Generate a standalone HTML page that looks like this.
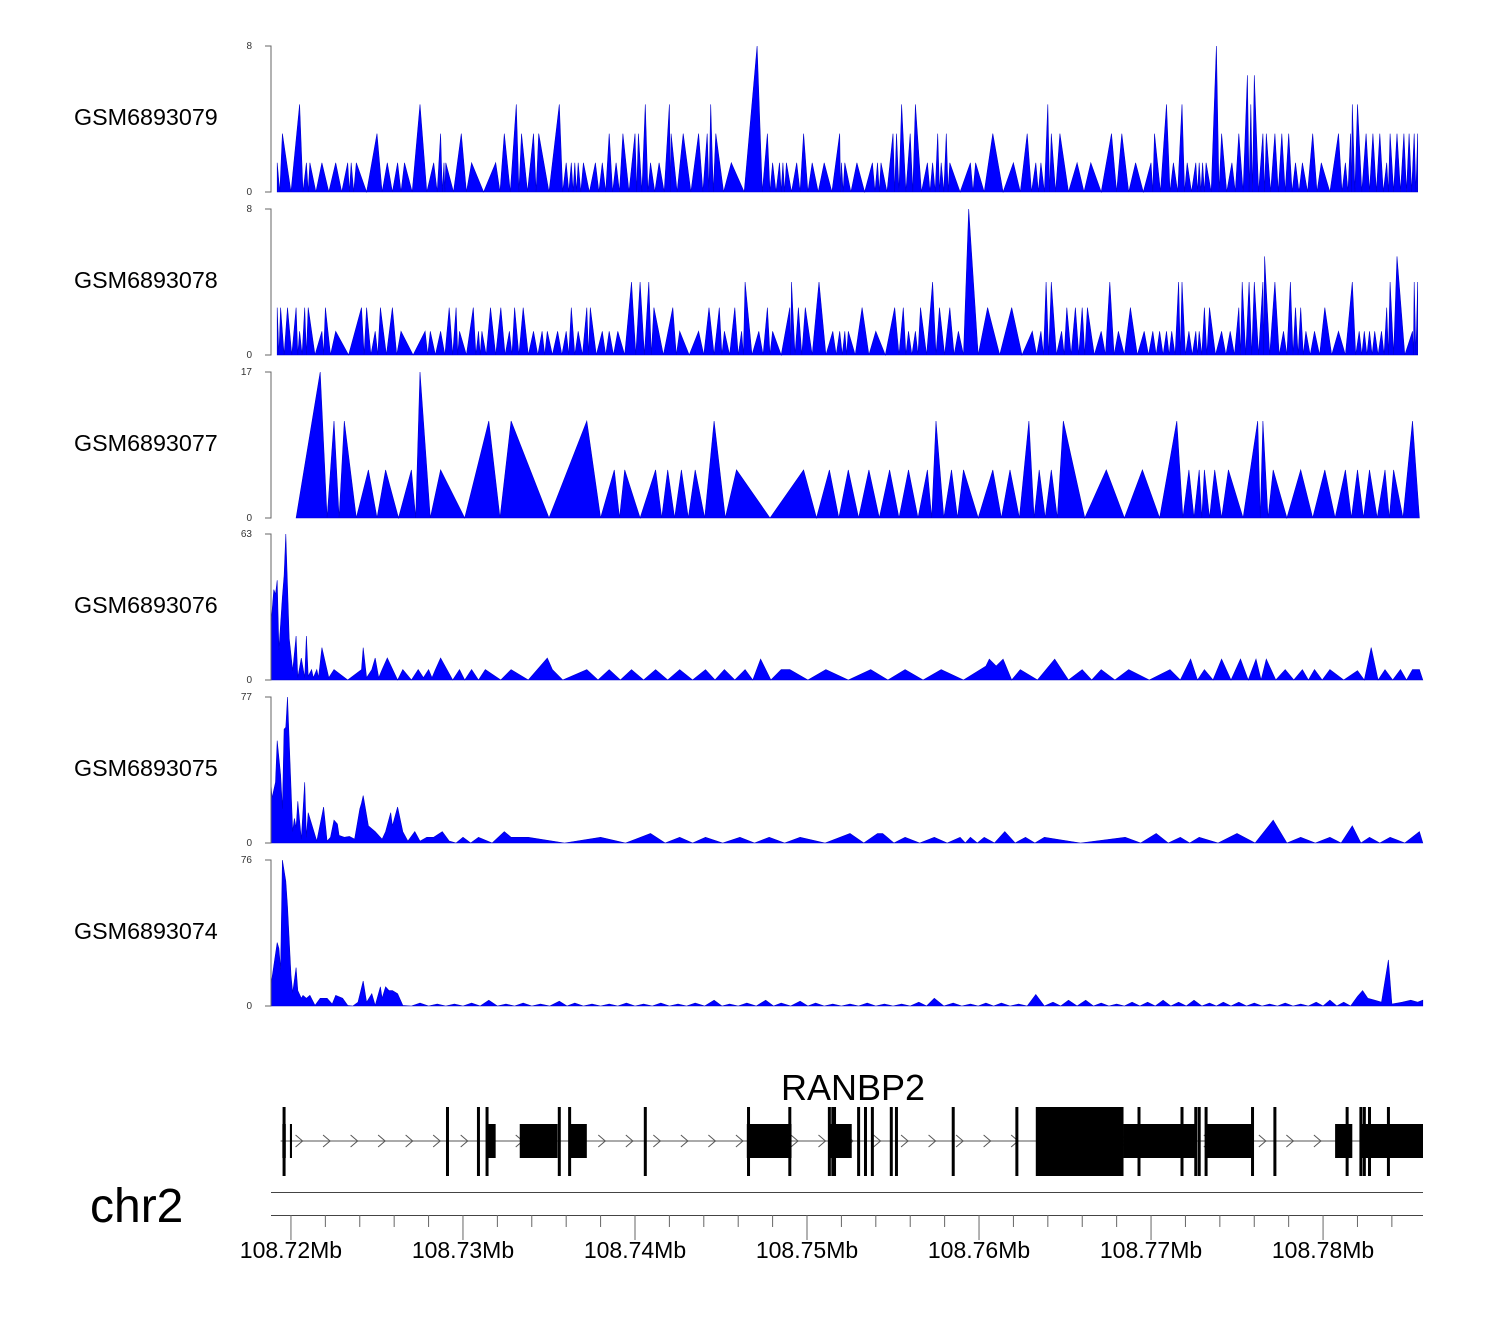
<!DOCTYPE html>
<html><head><meta charset="utf-8"><style>
html,body{margin:0;padding:0;background:#fff;}
svg{display:block;font-family:"Liberation Sans",sans-serif;}
</style></head><body>
<svg id="chart" width="1500" height="1320" viewBox="0 0 1500 1320" xmlns="http://www.w3.org/2000/svg"></svg>
<script>
// genomic positions in kb relative to 108.72 Mb
const regionStartKb = -1.16, regionEndKb = 65.81;
const trackNames = ["GSM6893079","GSM6893078","GSM6893077","GSM6893076","GSM6893075","GSM6893074"];
const trackMax = [8,8,17,63,77,76];
const trackSparse = [true,true,true,false,false,false];

const t1Pos = [-0.8,-0.5,0.5,0.9,1.1,1.8,2.6,3.3,3.5,3.8,5.0,5.6,6.2,6.6,7.5,8.3,8.7,8.9,9.0,9.9,10.5,11.9,12.4,13.1,13.4,14.1,14.4,15.6,16.0,16.3,16.5,16.7,17.0,17.7,18.1,18.5,18.9,19.3,20.0,20.2,20.6,20.9,21.4,22.0,22.1,22.8,23.7,24.2,24.4,24.7,25.6,27.1,27.7,28.0,28.4,28.6,28.8,29.4,29.8,30.3,31.0,31.9,32.0,32.2,32.9,33.8,34.1,34.3,35.0,35.2,35.5,36.0,36.3,37.0,37.3,37.6,37.8,38.1,38.3,39.5,39.8,40.8,42.0,42.8,43.3,43.6,44.0,44.2,44.7,45.7,46.5,47.7,48.3,49.1,50.0,50.2,50.9,51.3,51.8,52.1,52.6,52.8,53.0,53.2,53.8,54.1,54.7,55.1,55.6,55.8,56.0,56.5,56.7,57.2,57.6,58.0,58.4,58.8,59.4,59.9,60.9,61.3,61.6,61.7,62.0,62.5,62.9,63.3,63.7,63.9,64.3,64.7,65.0,65.3,65.5];
const t1Val = [1.6,3.2,4.8,1.6,1.6,1.6,1.6,1.6,1.6,1.6,3.2,1.6,1.6,1.6,4.8,1.6,3.2,1.6,1.6,3.2,1.6,1.6,3.2,4.8,3.2,3.2,3.2,4.8,1.6,1.6,1.6,1.6,1.6,1.6,1.6,3.2,1.6,3.2,3.2,3.2,4.8,1.6,1.6,4.8,3.2,3.2,3.2,3.2,4.8,3.2,1.6,8,3.2,1.6,1.6,1.6,1.6,1.6,3.2,1.6,1.6,3.2,1.6,1.6,1.6,1.6,1.6,1.6,3.2,3.2,4.8,3.2,4.8,1.6,1.6,3.2,1.6,3.2,1.6,1.6,1.6,3.2,1.6,3.2,1.6,1.6,4.8,3.2,3.2,1.6,1.6,3.2,3.2,1.6,1.6,3.2,4.8,1.6,4.8,1.6,1.6,1.6,1.6,1.6,8,3.2,1.6,3.2,6.4,4.8,6.4,3.2,3.2,3.2,3.2,3.2,1.6,1.6,3.2,1.6,3.2,1.6,3.2,4.8,4.8,3.2,3.2,3.2,1.6,3.2,3.2,3.2,3.2,3.2,3.2];

const t2Pos = [-0.8,-0.6,-0.2,0.3,0.5,0.8,1.0,1.8,2.0,2.6,4.1,4.4,4.9,5.2,5.9,6.4,7.8,8.1,8.7,9.2,9.6,9.8,10.6,10.9,11.1,11.6,12.2,12.7,13.0,13.5,14.1,14.6,14.9,15.5,16.0,16.3,16.7,17.2,17.4,18.1,18.5,19.0,19.8,20.3,20.8,21.1,22.2,22.6,23.7,24.3,24.9,25.2,25.8,26.2,26.4,27.2,27.7,28.0,29.0,29.1,29.5,29.9,30.7,31.5,31.9,32.2,32.4,33.2,34.0,35.1,35.6,35.9,36.3,36.6,37.3,37.7,38.3,38.8,39.4,40.5,41.9,43.1,43.6,43.9,44.2,44.8,45.1,45.6,46.0,46.3,47.1,47.6,48.1,48.8,49.6,50.1,50.5,50.9,51.2,51.6,51.8,52.2,52.6,52.8,53.1,53.4,54.1,54.6,55.1,55.3,55.7,56.0,56.5,56.6,57.2,57.7,58.1,58.4,58.7,59.0,59.5,60.1,60.9,61.7,62.1,62.4,62.7,63.0,63.4,63.7,63.9,64.3,65.2,65.3,65.5];
const t2Val = [2.6,2.6,2.6,2.6,1.3,2.6,2.6,1.3,2.6,1.3,2.6,2.6,1.3,2.6,2.6,1.3,1.3,1.3,1.3,2.6,2.6,1.3,2.6,1.3,1.3,2.6,2.6,1.3,2.6,2.6,1.3,1.3,1.3,1.3,1.3,2.6,1.3,2.6,2.6,1.3,1.3,1.3,4,4,4,2.6,2.6,1.3,1.3,2.6,2.6,1.3,2.6,1.3,4,1.3,2.6,1.3,2.6,4,2.6,2.6,4,1.3,1.3,1.3,1.3,2.6,1.3,2.6,2.6,1.3,1.3,2.6,4,2.6,2.6,1.3,8,2.6,2.6,1.3,1.3,4,4,1.3,2.6,2.6,2.6,2.6,1.3,4,1.3,2.6,1.3,1.3,1.3,1.3,1.3,4,4,1.3,1.3,1.3,2.6,2.6,1.3,1.3,2.6,4,4,4,4,5.4,4,1.3,4,2.6,2.6,1.3,1.3,2.6,1.3,4,1.3,1.3,1.3,1.3,1.3,2.6,4,5.4,1.3,4,4];

const t3Pos = [0.3,1.7,2.5,3.1,4.5,5.5,7.0,7.5,8.7,11.5,12.8,17.2,18.8,19.4,21.2,21.9,22.7,23.5,24.6,25.9,29.8,31.3,32.4,33.6,34.8,35.9,37.0,37.5,38.4,39.1,40.8,41.8,42.9,43.5,44.2,44.9,47.4,49.5,51.5,52.2,52.8,53.1,53.7,54.5,56.2,56.5,57.1,58.7,60.1,61.3,62.0,62.7,63.6,64.1,65.2,65.6];
const t3Val = [0,17,11.3,11.3,5.6,5.6,5.6,17,5.6,11.3,11.3,11.3,5.6,5.6,5.6,5.6,5.6,5.6,11.3,5.6,5.6,5.6,5.6,5.6,5.6,5.6,5.6,11.3,5.6,5.6,5.6,5.6,11.3,5.6,5.6,11.3,5.6,5.6,11.3,5.6,5.6,5.6,5.6,5.6,11.3,11.3,5.6,5.6,5.6,5.6,5.6,5.6,5.6,5.6,11.3,0];

const t4Pos = [-1.16,-1.0,-0.9,-0.8,-0.7,-0.5,-0.4,-0.3,-0.1,0.1,0.3,0.4,0.6,0.8,0.9,1.0,1.2,1.3,1.5,1.6,1.8,2.2,2.5,3.3,4.1,4.2,4.4,4.7,4.9,5.1,5.3,5.6,6.2,6.5,7.0,7.4,7.7,8.0,8.2,8.4,8.7,9.4,9.8,10.1,10.5,10.9,11.3,12.2,12.8,13.8,14.9,15.2,15.8,17.2,18.5,19.8,21.2,22.6,24.1,25.2,26.4,27.3,28.5,29.0,31.1,33.7,35.7,37.8,40.4,40.6,41.0,41.4,42.4,44.4,46.0,47.1,48.7,51.1,52.3,53.1,54.1,55.2,56.1,56.7,57.8,58.8,59.5,60.4,62.0,62.8,63.6,64.5,65.2,65.6,65.8];
const t4Val = [23.8,39,37,43,13,36,45,63,18,4,19,1,9.5,1,19,1.6,4.5,1,4.5,1,14,1,4.5,0,4.5,14,1,4.5,9.5,1,4.5,9.5,0,4.5,0,4.5,1,4.5,1,4.5,9.5,0,4.5,0,4.5,0,4.5,0,4.5,0,9.5,4.5,0,4.5,4.5,4.5,4.5,4.5,4.5,4.5,4.5,9,4.5,4.5,4.5,4.5,4.5,4.5,6,9,6,9,4.5,9,4.5,4.5,4.5,4.5,9,4.5,9,9,9,9,4.5,4.5,4.5,4.5,4,14,4.5,4.5,4.5,4.5,0];

const t5Pos = [-1.16,-1.1,-0.9,-0.8,-0.6,-0.5,-0.4,-0.3,-0.2,0.1,0.2,0.3,0.4,0.6,0.8,0.9,1.0,1.5,1.9,2.1,2.3,2.5,2.7,2.8,3.1,3.4,3.7,4.0,4.1,4.2,4.5,4.9,5.3,5.5,5.8,5.9,6.2,6.5,6.8,7.2,7.5,7.9,8.3,8.8,9.2,10.0,10.9,11.7,12.4,12.8,13.4,13.8,15.9,18.0,20.9,22.6,24.1,26.1,27.8,29.6,32.5,34.1,34.4,35.7,37.4,38.9,39.5,40.3,41.5,42.7,43.8,45.9,48.5,50.3,51.7,52.8,55.0,57.1,58.7,60.4,61.7,62.7,63.9,65.6,65.8];
const t5Val = [31.6,23.7,32,54,36,18,60,61,77,6,13,8,22,2,32,3,16,1,19,1,3,12,10,4,3,3.5,2,18,21,25,9,6,2,6,16,9,19,6,1,6,1,3,3,6,1,3,3,0,6,3,3,3,0,3,5,3,3,3,3,3,5,5,5,3,3,3,3,3,6,3,3,0,3,5,3,3,5,12,3,3,9,3,3,6,0];

const t6Pos = [-1.16,-1.0,-0.8,-0.7,-0.6,-0.5,-0.3,-0.2,0.0,0.1,0.3,0.4,0.6,0.7,0.9,1.1,1.4,1.7,2.1,2.4,2.6,3.0,3.3,3.9,4.2,4.4,4.7,4.9,5.2,5.3,5.5,5.7,5.9,6.2,6.5,7.5,8.5,9.5,10.5,11.5,12.5,13.5,14.5,15.6,16.5,17.5,18.5,19.5,20.5,21.5,22.5,23.5,24.6,25.5,26.5,27.6,28.5,29.6,30.5,31.5,32.5,33.5,34.5,35.5,36.5,37.4,38.5,39.5,40.4,41.3,42.3,43.3,44.3,45.2,46.2,47.1,48.0,48.9,49.8,50.7,51.6,52.5,53.4,54.2,55.1,56.0,56.9,57.8,58.7,59.6,60.4,61.2,62.0,62.3,62.6,63.0,63.4,63.8,64.0,64.6,65.1,65.5,65.8];
const t6Val = [11,21,33,30,19,76,65,52,16,7,20,8,4,5.5,4,5.5,0.3,4,4,1,5.5,4,0.3,2,13,2,6.4,0.3,10,4,10,8,8,6.4,0.3,1.5,1,1,1.5,3,1,1.5,1,2.5,1.5,1,1,1.5,1,1.5,1,1.5,3,1,1.5,3,1.5,2.5,1.5,1,1,1.5,1,1,2,4,1.5,1,1.5,1.5,1,6,2,3,3,1.5,1,2,2,3,2,3,1.5,2,2,1.5,1,1.5,1,2,3,2,5,8,4,3,2,24,1,2,3,2,3];

const trackPos = [t1Pos,t2Pos,t3Pos,t4Pos,t5Pos,t6Pos];
const trackVal = [t1Val,t2Val,t3Val,t4Val,t5Val,t6Val];

// gene model (kb)
const geneStart = -0.6, geneEnd = 65.81;
const thinExons = [-0.4,9.1,10.9,11.4,15.6,16.2,20.6,26.6,29.0,31.3,31.5,31.6,33.0,33.4,33.8,34.9,35.2,38.5,42.2,49.3,51.8,52.6,52.8,53.2,55.9,57.2,61.4,62.2,62.4,62.7,63.8];
const midExonStarts = [-0.5,-0.06,11.4,13.3,16.2,26.5,31.3,48.4,53.2,60.7,62.2];
const midExonEnds   = [-0.3,0.06,11.9,15.5,17.2,29.1,32.6,52.6,55.9,61.7,65.81];
const thickExonStarts = [43.3];
const thickExonEnds = [48.4];
const axisTicksKb = [0,10,20,30,40,50,60];
const axisTickLabels = ["108.72Mb","108.73Mb","108.74Mb","108.75Mb","108.76Mb","108.77Mb","108.78Mb"];

const svg = document.getElementById('chart');
const NS = 'http://www.w3.org/2000/svg';
const X0 = 271, X1 = 1423;
function xs(kb){ return X0 + (kb - regionStartKb) / (regionEndKb - regionStartKb) * (X1 - X0); }
function mk(tag, attrs, parent){ const e = document.createElementNS(NS, tag); for (const k in attrs) e.setAttribute(k, attrs[k]); (parent||svg).appendChild(e); return e; }

const trackTop = [46,209,372,534,697,860];
const trackH = 146;
for (let t = 0; t < 6; t++){
  const top = trackTop[t], base = top + trackH;
  const g = mk('g', {});
  
  
  const ys = v => base - v / trackMax[t] * trackH;
  const pos = trackPos[t], val = trackVal[t];
  let pts = [];
  pts.push([xs(pos[0]), base]);
  for (let i = 0; i < pos.length; i++){
    if (i > 0 && val[i] > 0 && val[i-1] > 0 && (trackSparse[t] || pos[i] - pos[i-1] > 0.6)){
      pts.push([xs((pos[i] + pos[i-1]) / 2), base]);
    }
    pts.push([xs(pos[i]), ys(val[i])]);
  }
  pts.push([xs(pos[pos.length-1]), base]);
  const poly = mk('polygon', {points: pts.map(p => p[0].toFixed(1) + ',' + p[1].toFixed(1)).join(' '), fill: '#0000ff', stroke: '#0000cc', 'stroke-width': 0.6, 'stroke-linejoin': 'miter'}, g);
  
  
  const ax = mk('path', {d: `M265 ${top} H271 V${base} H265`, fill: 'none', stroke: '#666', 'stroke-width': 1}, g);
  
  
  const tmax = mk('text', {x: 252, y: top + 3, 'font-size': 10, 'text-anchor': 'end', fill: '#333'}, g);
  tmax.textContent = trackMax[t];
  
  
  const tmin = mk('text', {x: 252, y: base + 3, 'font-size': 10, 'text-anchor': 'end', fill: '#333'}, g);
  tmin.textContent = '0';
  
  
  const nm = mk('text', {x: 74, y: top + 79, 'font-size': 23.3, fill: '#000'}, g);
  nm.textContent = trackNames[t];
  
  
}

// gene track
const gg = mk('g', {});


const title = mk('text', {x: 853, y: 1100, 'font-size': 36, 'text-anchor': 'middle', fill: '#000'}, gg);
title.textContent = 'RANBP2';


const intron = mk('line', {x1: xs(geneStart), x2: xs(geneEnd), y1: 1141, y2: 1141, stroke: '#777', 'stroke-width': 1.2}, gg);


for (let kb = 0.5; kb < geneEnd; kb += 1.6){
  const x = xs(kb);
  const c = mk('path', {d: `M${x-4} 1135 L${x+3} 1141 L${x-4} 1147`, fill: 'none', stroke: '#555', 'stroke-width': 1}, gg);
  
  
}
for (let i = 0; i < midExonStarts.length; i++){
  const r = mk('rect', {x: xs(midExonStarts[i]), y: 1124, width: Math.max(2, xs(midExonEnds[i]) - xs(midExonStarts[i])), height: 34, fill: '#000'}, gg);
  
  
}
for (let i = 0; i < thickExonStarts.length; i++){
  const r = mk('rect', {x: xs(thickExonStarts[i]), y: 1107, width: xs(thickExonEnds[i]) - xs(thickExonStarts[i]), height: 69, fill: '#000'}, gg);
  
  
}
for (let i = 0; i < thinExons.length; i++){
  const r = mk('rect', {x: xs(thinExons[i]) - 1.5, y: 1107, width: 3, height: 69, fill: '#000'}, gg);
  
  
}

// axis
const ag = mk('g', {});


const chr = mk('text', {x: 90, y: 1222, 'font-size': 48, fill: '#000'}, ag);
chr.textContent = 'chr2';


mk('line', {x1: X0, x2: X1, y1: 1192.5, y2: 1192.5, stroke: '#444', 'stroke-width': 1}, ag);
mk('line', {x1: X0, x2: X1, y1: 1215.5, y2: 1215.5, stroke: '#444', 'stroke-width': 1}, ag);
for (let kb = 0; kb <= regionEndKb; kb += 2){
  const x = xs(kb);
  const major = Math.abs(kb % 10) < 0.01;
  mk('line', {x1: x, x2: x, y1: 1215, y2: major ? 1240 : 1227, stroke: '#666', 'stroke-width': 1}, ag);
}
for (let i = 0; i < axisTicksKb.length; i++){
  const tx = mk('text', {x: xs(axisTicksKb[i]), y: 1258, 'font-size': 23, 'text-anchor': 'middle', fill: '#000'}, ag);
  tx.textContent = axisTickLabels[i];
  
  
}
</script>
</body></html>
